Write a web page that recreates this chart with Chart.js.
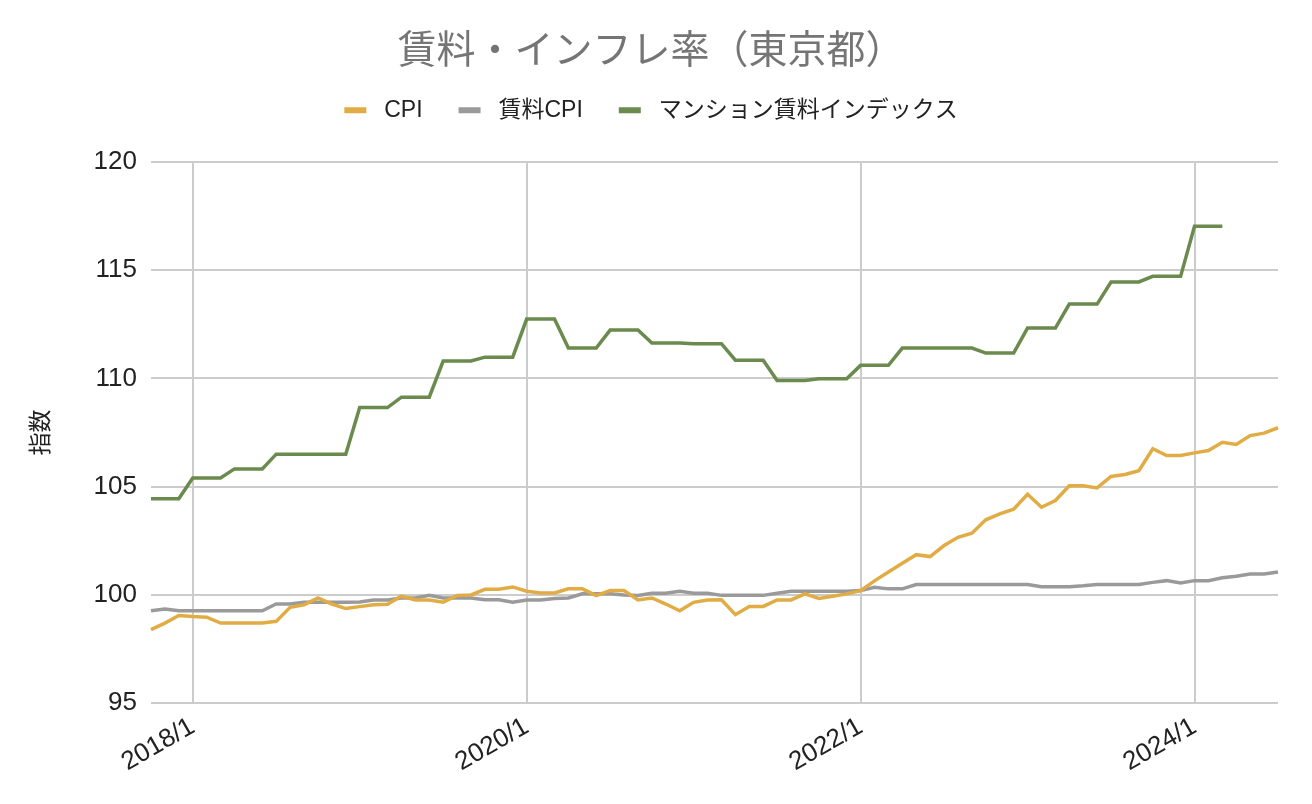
<!DOCTYPE html>
<html lang="ja">
<head>
<meta charset="utf-8">
<script src="https://cdn.jsdelivr.net/npm/chart.js@4"></script>
<style>
  html, body { margin: 0; padding: 0; background: #fff; }
  #wrap { width: 1312px; height: 804px; }
</style>
</head>
<body>
<div id="wrap"><canvas id="rentChart"></canvas></div>
<script>
// 月次ラベル 2017/10 〜 2024/7
const months = [
  '2017/10', '2017/11', '2017/12',
  '2018/1', '2018/2', '2018/3', '2018/4', '2018/5', '2018/6', '2018/7', '2018/8', '2018/9', '2018/10', '2018/11', '2018/12',
  '2019/1', '2019/2', '2019/3', '2019/4', '2019/5', '2019/6', '2019/7', '2019/8', '2019/9', '2019/10', '2019/11', '2019/12',
  '2020/1', '2020/2', '2020/3', '2020/4', '2020/5', '2020/6', '2020/7', '2020/8', '2020/9', '2020/10', '2020/11', '2020/12',
  '2021/1', '2021/2', '2021/3', '2021/4', '2021/5', '2021/6', '2021/7', '2021/8', '2021/9', '2021/10', '2021/11', '2021/12',
  '2022/1', '2022/2', '2022/3', '2022/4', '2022/5', '2022/6', '2022/7', '2022/8', '2022/9', '2022/10', '2022/11', '2022/12',
  '2023/1', '2023/2', '2023/3', '2023/4', '2023/5', '2023/6', '2023/7', '2023/8', '2023/9', '2023/10', '2023/11', '2023/12',
  '2024/1', '2024/2', '2024/3', '2024/4', '2024/5', '2024/6', '2024/7'
];

// 軸に表示する月
const shownTicks = ['2018/1', '2020/1', '2022/1', '2024/1'];

const cpi = [
  98.4, 98.7, 99.05,
  99.0, 98.97, 98.7, 98.7, 98.7, 98.7, 98.78, 99.43, 99.54, 99.86, 99.58, 99.37,
  99.46, 99.55, 99.57, 99.95, 99.77, 99.77, 99.66, 99.98, 100.0, 100.26, 100.26, 100.37,
  100.17, 100.09, 100.09, 100.28, 100.28, 99.97, 100.2, 100.2, 99.77, 99.86, 99.58, 99.27,
  99.66, 99.77, 99.78, 99.09, 99.47, 99.47, 99.77, 99.77, 100.05, 99.84, 99.94, 100.05,
  100.2, 100.65, 101.06, 101.46, 101.86, 101.77, 102.28, 102.66, 102.85, 103.47, 103.74, 103.96,
  104.65, 104.05, 104.36, 105.04, 105.04, 104.94, 105.47, 105.56, 105.74, 106.75, 106.44, 106.44,
  106.56, 106.67, 107.05, 106.95, 107.36, 107.47, 107.72
];

const rentCpi = [
  99.27, 99.35, 99.27,
  99.27, 99.27, 99.27, 99.27, 99.27, 99.27, 99.58, 99.58, 99.66, 99.66, 99.66, 99.66,
  99.67, 99.77, 99.77, 99.86, 99.86, 99.98, 99.86, 99.86, 99.86, 99.78, 99.78, 99.66,
  99.77, 99.77, 99.84, 99.86, 100.05, 100.05, 100.05, 100.0, 99.97, 100.08, 100.08, 100.17,
  100.08, 100.08, 99.98, 99.98, 99.98, 99.98, 100.08, 100.17, 100.17, 100.17, 100.17, 100.17,
  100.2, 100.35, 100.28, 100.28, 100.48, 100.48, 100.48, 100.48, 100.48, 100.48, 100.48, 100.48,
  100.48, 100.38, 100.38, 100.38, 100.42, 100.48, 100.48, 100.48, 100.48, 100.58, 100.66, 100.55,
  100.66, 100.66, 100.79, 100.86, 100.97, 100.97, 101.06
];

const mansionIndex = [
  104.44, 104.44, 104.44,
  105.4, 105.4, 105.4, 105.82, 105.82, 105.82, 106.5, 106.5, 106.5, 106.5, 106.5, 106.5,
  108.65, 108.65, 108.65, 109.13, 109.13, 109.13, 110.8, 110.8, 110.8, 110.98, 110.98, 110.98,
  112.74, 112.74, 112.74, 111.4, 111.4, 111.4, 112.23, 112.23, 112.23, 111.63, 111.63, 111.63,
  111.6, 111.6, 111.6, 110.84, 110.84, 110.84, 109.9, 109.9, 109.9, 109.98, 109.98, 109.98,
  110.6, 110.6, 110.6, 111.4, 111.4, 111.4, 111.4, 111.4, 111.4, 111.17, 111.17, 111.17,
  112.32, 112.32, 112.32, 113.43, 113.43, 113.43, 114.45, 114.45, 114.45, 114.71, 114.71, 114.71,
  117.02, 117.02, 117.02, null, null, null, null
];

const yTicks = [95, 100, 105, 110, 115, 120];

const FONT = "'Liberation Sans', 'Noto Sans CJK JP', sans-serif";
const gridColor = '#cccccc';

function lineSet(label, data, color) {
  return {
    label: label,
    data: data,
    borderColor: color,
    backgroundColor: color,
    borderWidth: 3.5,
    pointRadius: 0,
    tension: 0,
    spanGaps: false
  };
}

// 凡例の下に余白を足す
const legendGap = {
  id: 'legendGap',
  beforeInit(chart) {
    const fit = chart.legend.fit;
    chart.legend.fit = function () {
      fit.bind(chart.legend)();
      this.height += 30;
    };
  }
};

const ctx = document.getElementById('rentChart').getContext('2d');

const rentChart = new Chart(ctx, {
  type: 'line',
  data: {
    labels: months,
    datasets: [
      lineSet('CPI', cpi, '#e2ac45'),
      lineSet('賃料CPI', rentCpi, '#9a9a9a'),
      lineSet('マンション賃料インデックス', mansionIndex, '#6a8a4e')
    ]
  },
  plugins: [legendGap],
  options: {
    responsive: true,
    maintainAspectRatio: false,
    animation: false,
    layout: {
      padding: { left: 24, right: 34, top: 0, bottom: 18 }
    },
    plugins: {
      title: {
        display: true,
        text: '賃料・インフレ率（東京都）',
        color: '#757575',
        font: { family: FONT, size: 39, weight: 'normal' },
        padding: { top: 29, bottom: -13 }
      },
      legend: {
        position: 'top',
        labels: {
          color: '#222',
          font: { family: FONT, size: 23 },
          boxWidth: 22,
          boxHeight: 6,
          padding: 36,
          generateLabels: function (chart) {
            const items = Chart.defaults.plugins.legend.labels.generateLabels(chart);
            items.forEach(function (it) {
              it.lineWidth = 0;
              it.text = ' ' + it.text;
            });
            return items;
          }
        }
      },
      tooltip: { enabled: false }
    },
    scales: {
      x: {
        type: 'category',
        border: { display: false },
        grid: {
          color: function (c) {
            return c.tick && shownTicks.includes(months[c.tick.value]) ? gridColor : 'rgba(0,0,0,0)';
          },
          lineWidth: 2,
          drawTicks: false
        },
        ticks: {
          autoSkip: false,
          minRotation: 30,
          maxRotation: 30,
          padding: 8,
          color: '#222',
          font: { family: FONT, size: 26 },
          callback: function (value) {
            const lab = months[value];
            return shownTicks.includes(lab) ? lab : null;
          }
        }
      },
      y: {
        min: yTicks[0],
        max: yTicks[yTicks.length - 1],
        border: { display: false },
        grid: { color: gridColor, lineWidth: 2, drawTicks: false },
        afterBuildTicks: function (axis) {
          axis.ticks = yTicks.map(function (v) { return { value: v }; });
        },
        ticks: {
          padding: 14,
          color: '#222',
          font: { family: FONT, size: 26 }
        },
        title: {
          display: true,
          text: '指数',
          color: '#222',
          font: { family: FONT, size: 23 },
          padding: { top: 4, bottom: 24 }
        }
      }
    }
  }
});
</script>
</body>
</html>
